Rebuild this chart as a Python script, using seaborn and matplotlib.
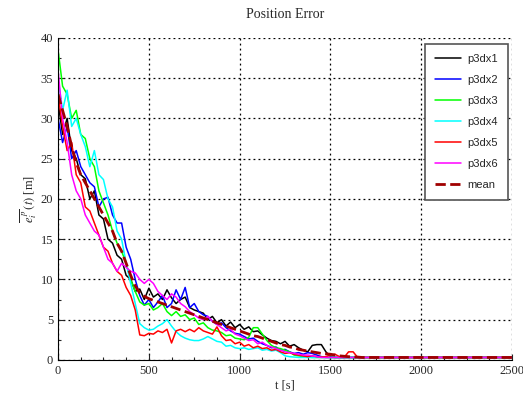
import numpy as np
import pandas as pd
import matplotlib
matplotlib.use("Agg")
import matplotlib.pyplot as plt
import seaborn as sns
from matplotlib.ticker import MultipleLocator

# =========================
# data (t in seconds)
# =========================
t = list(range(0, 1725, 25)) + [2500]

p3dx1 = [32, 28, 30, 26, 25, 23, 22.5, 20, 21, 18,
         17.5, 15, 14.5, 13, 12.5, 10.5, 10, 8.5, 8.8, 7.5,
         8.9, 7.8, 8.2, 7.5, 8.7, 7.7, 7.0, 7.5, 7.8, 6.5,
         6.2, 6.0, 5.8, 5.0, 5.4, 4.6, 5.0, 4.2, 4.7, 4.0,
         4.4, 3.8, 4.1, 3.5, 3.6, 3.1, 2.7, 2.4, 2.3, 2.0,
         2.3, 1.7, 1.9, 1.5, 1.2, 1.0, 1.8, 1.9, 1.9, 1.0,
         0.4, 0.3, 0.3, 0.3, 0.3, 0.3, 0.3, 0.3, 0.3, 0.3]
p3dx2 = [30, 27, 29, 25, 26, 24, 23, 22, 21.5, 19,
         20, 20.2, 18, 17, 17, 14, 12.5, 10, 8, 6.8,
         7.5, 6.5, 7.2, 8.0, 6.5, 7.0, 8.7, 7.5, 9.0, 6.5,
         7.0, 6.0, 5.6, 5.4, 4.8, 4.4, 4.6, 4.0, 3.6, 3.3,
         3.2, 2.9, 2.6, 2.7, 2.3, 2.0, 1.8, 1.5, 1.6, 1.2,
         1.3, 1.0, 0.8, 0.9, 0.7, 0.9, 0.8, 0.6, 0.4, 0.3,
         0.3, 0.3, 0.3, 0.3, 0.3, 0.3, 0.3, 0.3, 0.3, 0.3]
p3dx3 = [38.5, 34, 33, 30, 31, 28, 27.5, 25, 24, 21,
         19.5, 18, 16, 14.5, 13.5, 12, 10, 8.5, 7.2, 6.8,
         7.0, 6.2, 6.5, 7.0, 6.0, 5.5, 6.0, 5.4, 5.6, 5.0,
         5.2, 4.4, 4.6, 4.0, 3.7, 3.6, 3.4, 3.0, 3.1, 2.7,
         2.6, 2.5, 2.8, 4.0, 4.0, 3.2, 2.4, 1.8, 1.5, 1.4,
         1.2, 1.0, 0.6, 0.5, 0.4, 0.35, 0.3, 0.3, 0.3, 0.3,
         0.3, 0.3, 0.3, 0.3, 0.3, 0.3, 0.3, 0.3, 0.3, 0.3]
p3dx4 = [35, 31, 33.5, 29, 30, 28, 26.5, 24, 26, 23,
         22.4, 20, 19, 16, 15, 12, 9.5, 7, 4.5, 4.0,
         3.7, 3.8, 4.2, 4.5, 5.0, 4.2, 3.5, 3.0, 2.7, 2.5,
         2.4, 2.4, 2.6, 2.9, 2.6, 2.3, 2.2, 1.7, 1.8, 1.5,
         1.4, 1.5, 1.3, 1.4, 1.5, 1.2, 1.3, 1.1, 1.2, 0.9,
         0.5, 0.4, 0.35, 0.3, 0.3, 0.3, 0.3, 0.3, 0.3, 0.3,
         0.3, 0.3, 0.3, 0.3, 0.3, 0.3, 0.3, 0.3, 0.3, 0.3]
p3dx5 = [33, 29, 26, 27, 23, 22, 19, 18.5, 17, 15.5,
         14, 13.5, 12, 11, 10.5, 9, 8, 6.2, 3.1, 3.0,
         3.3, 3.2, 3.6, 3.4, 3.8, 2.1, 3.6, 3.8, 3.5, 3.8,
         3.5, 4.0, 3.6, 3.4, 3.2, 4.1, 3.0, 2.4, 2.5, 2.0,
         2.2, 1.7, 1.9, 1.5, 1.7, 1.4, 1.5, 1.2, 1.3, 1.0,
         0.8, 0.9, 0.7, 0.6, 0.5, 0.4, 0.5, 0.4, 0.35, 0.4,
         0.6, 0.7, 0.4, 0.3, 1.0, 1.0, 0.3, 0.3, 0.3, 0.3]
p3dx6 = [36, 30, 27, 23, 21, 20, 18, 17, 16, 15.5,
         14, 12.5, 12, 11, 12, 11.5, 11, 10.8, 10, 9.5,
         10, 9.5, 8.5, 8.0, 7.5, 8.2, 7.8, 7.0, 6.6, 6.0,
         5.6, 5.2, 5.0, 5.4, 4.8, 4.4, 4.0, 3.6, 3.8, 3.2,
         3.0, 2.7, 2.4, 2.5, 2.0, 2.2, 1.8, 1.6, 1.4, 1.2,
         1.0, 0.9, 0.8, 0.7, 0.6, 0.6, 0.5, 0.4, 0.3, 0.3,
         0.3, 0.3, 0.3, 0.3, 0.3, 0.3, 0.3, 0.3, 0.3, 0.3]
mean = [33, 31, 29, 26.5, 24.5, 23, 22, 21, 20, 19,
        18, 17, 16, 14.5, 13.5, 12, 10.5, 9.2, 8.3, 7.9,
        7.6, 7.4, 7.2, 7.0, 6.8, 6.6, 6.4, 6.2, 6.0, 5.8,
        5.6, 5.4, 5.2, 5.0, 4.8, 4.6, 4.4, 4.2, 4.0, 3.8,
        3.6, 3.4, 3.2, 3.0, 2.9, 2.7, 2.5, 2.3, 2.1, 1.9,
        1.8, 1.6, 1.5, 1.3, 1.2, 1.1, 1.0, 0.9, 0.8, 0.75,
        0.7, 0.6, 0.5, 0.45, 0.4, 0.35, 0.35, 0.3, 0.3, 0.3]

robots = ["p3dx1", "p3dx2", "p3dx3", "p3dx4", "p3dx5", "p3dx6"]
colors = ["#000000", "#0000ff", "#00ff00", "#00ffff", "#ff0000", "#ff00ff"]
series = [p3dx1, p3dx2, p3dx3, p3dx4, p3dx5, p3dx6]

df = pd.concat(
    [pd.DataFrame({"t": t, "err": s, "robot": r}) for r, s in zip(robots, series)],
    ignore_index=True,
)
df_mean = pd.DataFrame({"t": t, "err": mean})

# =========================
# style
# =========================
sns.set_style("ticks")
plt.rcParams["font.family"] = ["Liberation Serif", "DejaVu Serif"]
plt.rcParams["mathtext.fontset"] = "stix"

fig = plt.figure(figsize=(5.23, 4.03), dpi=100)
ax = fig.add_axes([0.111, 0.107, 0.868, 0.799])

# =========================
# lines
# =========================
for r, c in zip(robots, colors):
    sns.lineplot(data=df[df.robot == r], x="t", y="err", color=c, lw=1.1,
                 label=r, estimator=None, sort=False, ax=ax)
sns.lineplot(data=df_mean, x="t", y="err", color="#a00000", lw=2.0,
             linestyle="--", label="mean", estimator=None, ax=ax)

# =========================
# axes
# =========================
ax.set_xlim(0, 2500)
ax.set_ylim(0, 40)
ax.xaxis.set_major_locator(MultipleLocator(500))
ax.xaxis.set_minor_locator(MultipleLocator(125))
ax.yaxis.set_major_locator(MultipleLocator(5))
ax.yaxis.set_minor_locator(MultipleLocator(2.5))
ax.tick_params(which="both", direction="in", labelsize=9, width=0.8)
ax.tick_params(which="major", length=4)
ax.tick_params(which="minor", length=2)
ax.grid(True, which="major", color="black", linestyle=(0, (1.5, 2.5)), lw=0.9)
sns.despine(ax=ax)
for sp in ["left", "bottom"]:
    ax.spines[sp].set_linewidth(0.8)
    ax.spines[sp].set_color("black")

ax.set_title("Position Error", fontsize=10, pad=14)
ax.set_xlabel("t [s]", fontsize=9, labelpad=2)
ax.set_ylabel(r"$\overline{e_i^{\,p}}\,(t)$ [m]", fontsize=9, labelpad=1)

leg = ax.legend(loc="upper right", bbox_to_anchor=(0.991, 0.982),
                borderaxespad=0,
                prop={"family": "Liberation Sans", "size": 8},
                frameon=True, fancybox=False, framealpha=1,
                edgecolor="#555555", handlelength=2.3, labelspacing=1.0,
                borderpad=0.9, handletextpad=0.6)
leg.get_frame().set_linewidth(1.2)

fig.savefig("out.png", dpi=100)
